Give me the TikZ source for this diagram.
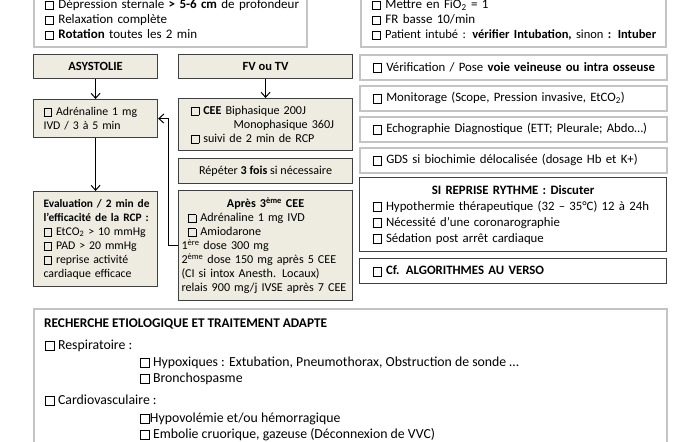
\documentclass[tikz,border=0pt]{standalone}
\usepackage{fontspec}
\setmainfont{Carlito}
\usetikzlibrary{arrows.meta}
\definecolor{beige}{HTML}{EEECE1}
\definecolor{dk}{HTML}{404040}
\definecolor{lg}{HTML}{C4C4C4}
\newcommand{\cbx}{\raisebox{-0.06em}{\fboxsep=0pt\fboxrule=0.75pt\fbox{\rule{0pt}{0.6em}\rule{0.6em}{0pt}}}}
\newcommand{\fs}[2]{\fontsize{#1}{#2}\selectfont}
\newcommand{\lnx}[1]{\mbox{#1}}
\begin{document}
\begin{tikzpicture}[x=1pt,y=-1pt,
  boxbase/.style={anchor=north west, inner ysep=0pt, align=left},
  beigebox/.style={boxbase, draw=dk, line width=1.1pt, fill=beige, font=\fs{12.1}{14}},
  leftbox/.style={beigebox, font=\fs{11.8}{14}},
  greybox/.style={boxbase, draw=lg, line width=1.6pt, fill=white, font=\fs{12.8}{15}},
  topbox/.style={greybox, font=\fs{13}{15}},
  darkbox/.style={boxbase, draw=dk, line width=1.1pt, fill=white, font=\fs{12.8}{16}},
  bottxt/.style={anchor=base west, inner sep=0pt, font=\fs{13.8}{15}},
  arr/.style={-{Straight Barb[length=5pt,width=9pt]}, line width=1pt}]
\useasboundingbox (0,0) rectangle (700,441);
\fill[white] (0,0) rectangle (700,441);

% top boxes
\node[topbox, minimum width=273, minimum height=54, inner xsep=11pt, text width=251pt] (tl) at (33,-8)
  {\lnx{\cbx\ Dépression sternale \textbf{> 5-6 cm} de profondeur}\\
   \lnx{\cbx\ Relaxation complète}\\
   \lnx{\cbx\ \textbf{Rotation} toutes les 2 min}};
\node[topbox, minimum width=305, minimum height=54, inner xsep=11pt, text width=283pt] (tr) at (360,-8)
  {\lnx{\cbx\ Mettre en FiO\textsubscript{2} = 1}\\
   \lnx{\cbx\ FR basse 10/min}\\
   \lnx{\fs{12.5}{15}\cbx\ Patient intubé : \textbf{vérifier Intubation,} sinon \textbf{: Intuber}}};

% left column
\node[beigebox, minimum width=124, minimum height=24, align=center, font=\fs{12.5}{14}\bfseries] (asys) at (33,54) {ASYSTOLIE};
\node[leftbox, minimum width=124, minimum height=38, inner xsep=10pt, text width=104pt] (adr) at (33,99)
  {\lnx{\cbx\ Adrénaline 1 mg}\\ \lnx{IVD / 3 à 5 min}};
\node[leftbox, minimum width=124, minimum height=95, inner xsep=10pt, text width=104pt] (eval) at (33,191)
  {\lnx{\fs{11.4}{14}\textbf{Evaluation / 2 min de}}\\
   \lnx{\fs{11.4}{14}\textbf{l’efficacité de la RCP :}}\\
   \lnx{\cbx\ EtCO\textsubscript{2} > 10 mmHg}\\
   \lnx{\cbx\ PAD > 20 mmHg}\\
   \lnx{\cbx\ reprise activité}\\
   \lnx{cardiaque efficace}};

% middle column
\node[beigebox, minimum width=174, minimum height=24, align=center, font=\fs{12.5}{14}\bfseries] (fv) at (178,54) {FV ou TV};
\node[beigebox, minimum width=174, minimum height=52, inner xsep=12pt, text width=150pt] (cee) at (178,98)
  {\lnx{\cbx\ \textbf{CEE} Biphasique 200J}\\
   \lnx{\hspace*{43pt}Monophasique 360J}\\
   \lnx{\cbx\ suivi de 2 min de RCP}};
\node[beigebox, minimum width=174, minimum height=25, align=center] (rep) at (178,158)
  {Répéter \textbf{3 fois} si nécessaire};
\node[beigebox, minimum width=174, minimum height=110, inner xsep=3pt, text width=168pt] (apres) at (178,190)
  {\makebox[168pt][c]{\textbf{Après 3\textsuperscript{ème} CEE}}\\
   \lnx{\hspace*{6pt}\cbx\ Adrénaline 1 mg IVD}\\
   \lnx{\hspace*{6pt}\cbx\ Amiodarone}\\
   \lnx{1\textsuperscript{ère} dose 300 mg}\\
   \lnx{2\textsuperscript{ème} dose 150 mg après 5 CEE}\\
   \lnx{(CI si intox Anesth. Locaux)}\\
   \lnx{relais 900 mg/j IVSE après 7 CEE}};

% right column
\node[greybox, minimum width=307, minimum height=25, inner xsep=13pt, text width=281pt] (vv) at (359,54)
  {\lnx{\cbx\ Vérification / Pose \textbf{voie veineuse ou intra osseuse}}};
\node[greybox, minimum width=307, minimum height=25, inner xsep=13pt, text width=281pt] (mon) at (359,85)
  {\lnx{\cbx\ Monitorage (Scope, Pression invasive, EtCO\textsubscript{2})}};
\node[greybox, minimum width=307, minimum height=25, inner xsep=13pt, text width=281pt] (echo) at (359,116)
  {\lnx{\cbx\ Echographie Diagnostique (ETT; Pleurale; Abdo…)}};
\node[greybox, minimum width=307, minimum height=25, inner xsep=13pt, text width=281pt] (gds) at (359,147)
  {\lnx{\cbx\ GDS si biochimie délocalisée (dosage Hb et K+)}};
\node[darkbox, minimum width=307, minimum height=74, inner xsep=13pt, text width=281pt] (si) at (359,177)
  {\makebox[281pt][c]{\textbf{SI REPRISE RYTHME : Discuter}}\\
   \lnx{\cbx\ Hypothermie thérapeutique (32 – 35°C) 12 à 24h}\\
   \lnx{\cbx\ Nécessité d’une coronarographie}\\
   \lnx{\cbx\ Sédation post arrêt cardiaque}};
\node[darkbox, minimum width=307, minimum height=25, inner xsep=13pt, text width=281pt] (cf) at (359,258)
  {\lnx{\cbx\ \textbf{Cf. ALGORITHMES AU VERSO}}};

% bottom box
\node[greybox, minimum width=633, minimum height=160] (bot) at (33,308) {};
\node[bottxt, font=\fs{13.3}{15}] (b1) at (44,327.5) {\textbf{RECHERCHE ETIOLOGIQUE ET TRAITEMENT ADAPTE}};
\node[bottxt] (b2) at (45,349.5) {\cbx\ Respiratoire :};
\node[bottxt] (b3) at (140,366.5) {\cbx\ Hypoxiques : Extubation, Pneumothorax, Obstruction de sonde …};
\node[bottxt] (b4) at (140,382.5) {\cbx\ Bronchospasme};
\node[bottxt] (b5) at (45,404.5) {\cbx\ Cardiovasculaire :};
\node[bottxt] (b6) at (140,422.5) {\cbx Hypovolémie et/ou hémorragique};
\node[bottxt] (b7) at (140,438.5) {\cbx\ Embolie cruorique, gazeuse (Déconnexion de VVC)};

% connectors
\draw[arr] (asys) -- (adr);
\draw[arr] (adr) -- (eval);
\draw[arr] (fv) -- (cee);
\draw[arr] (apres.west) -- ++(-10,0) |- (adr.east);
\end{tikzpicture}
\end{document}
